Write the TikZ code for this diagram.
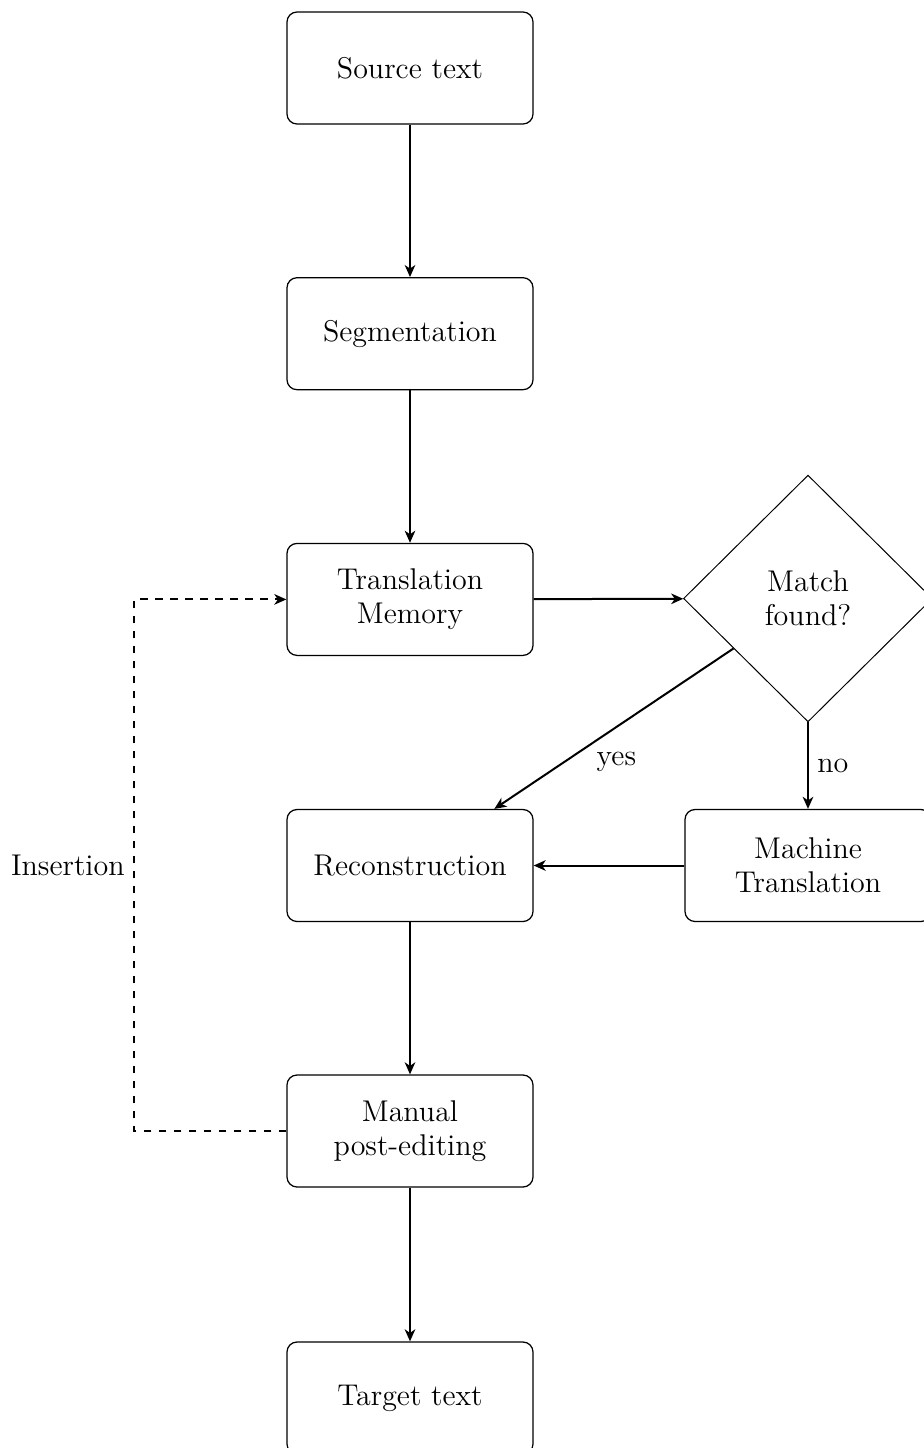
\documentclass[tikz,border=0pt]{standalone}
\usetikzlibrary{shapes.geometric,arrows.meta}
\begin{document}
\begin{tikzpicture}[x=0.4pt,y=-0.4pt,
  txt/.style={font=\fontsize{12}{13.6}\selectfont},
  box/.style={txt, draw, line width=0.5pt, rounded corners=4pt,
    minimum width=98.4pt, minimum height=44.8pt, align=center},
  decision/.style={txt, draw, diamond, line width=0.4pt, minimum width=99.6pt,
    minimum height=98.7pt, inner sep=0pt, align=center},
  conn/.style={line width=0.8pt, -{Stealth[length=4.8pt,width=4.2pt,inset=1.4pt]}},
  lbl/.style={txt}]
\useasboundingbox (0,0) rectangle (923,1448);
\node[box] (src) at (410,68) {Source text};
\node[box] (seg) at (410,333.7) {Segmentation};
\node[box] (tm) at (410,599.4) {Translation\\Memory};
\node[decision] (match) at (808,598.5) {Match\\found?};
\node[box] (recon) at (410,865.5) {Reconstruction};
\node[box] (mt) at (808,865.5) {Machine\\Translation};
\node[box] (manual) at (410,1131) {Manual\\post-editing};
\node[box] (target) at (410,1398) {Target text};
\coordinate (ins) at (134,865.5);
\draw[conn] (src) -- (seg);
\draw[conn] (seg) -- (tm);
\draw[conn] (tm) -- (match);
\draw[conn] (match) -- node[lbl, midway, below=5.5pt, xshift=1pt] {yes} (recon);
\draw[conn] (match) -- node[lbl, midway, right] {no} (mt);
\draw[conn] (mt) -- (recon);
\draw[conn] (recon) -- (manual);
\draw[conn] (manual) -- (target);
\draw[conn, dashed] (manual.west) -| (ins) node[lbl, left] {Insertion} |- (tm.west);
\end{tikzpicture}
\end{document}
